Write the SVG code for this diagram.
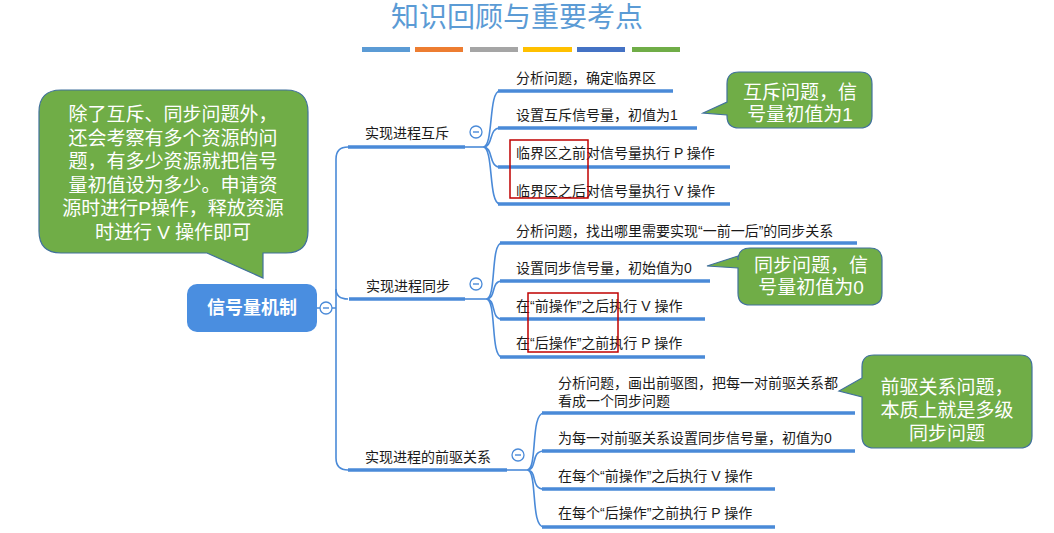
<svg xmlns="http://www.w3.org/2000/svg" width="1054" height="533" viewBox="0 0 1054 533">
<style>
text{font-family:"Liberation Sans","Noto Sans CJK SC",sans-serif;}
.title{font-size:28px;fill:#5b9bd5;text-anchor:middle;}
.t{font-size:14px;fill:#1a1a1a;}
.c{font-size:19px;fill:#ffffff;text-anchor:middle;}
.thin{fill:none;stroke:#4a8ad8;stroke-width:1.6;}
.ul{fill:none;stroke:#4a8ad8;stroke-width:3.5;}
.call{fill:#70ad47;stroke:#41719c;stroke-width:1.2;}
.red{fill:none;stroke:#c00000;stroke-width:1.5;}
.col{fill:#fff;stroke:#4a8ad8;stroke-width:1.3;}
.minus{stroke:#4a8ad8;stroke-width:1.4;}
</style>
<rect width="1054" height="533" fill="#ffffff"/>
<g id="title">
<text class="title" x="517" y="27">知识回顾与重要考点</text>
<rect x="362" y="47" width="48" height="5" fill="#5b9bd5"/>
<rect x="415" y="47" width="48" height="5" fill="#ed7d31"/>
<rect x="470" y="47" width="48" height="5" fill="#a5a5a5"/>
<rect x="523" y="47" width="49" height="5" fill="#ffc000"/>
<rect x="577" y="47" width="48" height="5" fill="#4472c4"/>
<rect x="632" y="47" width="48" height="5" fill="#70ad47"/>
</g>
<g id="connectors">
<path class="thin" d="M317,308 H320 M332,308 H336"/>
<path class="thin" d="M348,147 Q336,147 336,159 V458 Q336,470 348,470"/>
<path class="thin" d="M336,289 Q336,299 348,299"/>
<!-- section 1 -->
<path class="ul" d="M348,147 H465"/>
<path class="thin" d="M465,147 H483"/>
<path class="thin" d="M483,147 C494,147 488,91 500,91 M483,147 C494,147 488,128 500,128 M483,147 C494,147 488,167 500,167 M483,147 C494,147 488,204 500,204"/>
<path class="ul" d="M498,91 H673 M498,128 H697 M498,167 H730 M498,204 H730"/>
<!-- section 2 -->
<path class="ul" d="M349,299 H465"/>
<path class="thin" d="M465,299 H486"/>
<path class="thin" d="M486,299 C497,299 490,243 502,243 M486,299 C497,299 490,281 502,281 M486,299 C497,299 490,319 502,319 M486,299 C497,299 490,357 502,357"/>
<path class="ul" d="M500,243 H857 M500,281 H710 M500,319 H705 M500,357 H705"/>
<!-- section 3 -->
<path class="ul" d="M348,470 H507"/>
<path class="thin" d="M507,470 H527"/>
<path class="thin" d="M527,470 C538,470 530,413 544,413 M527,470 C538,470 530,451 544,451 M527,470 C538,470 530,489 544,489 M527,470 C538,470 530,527 544,527"/>
<path class="ul" d="M542,413 H855 M542,451 H855 M542,489 H775 M542,527 H775"/>
</g>
<g id="root">
<rect x="187" y="284" width="130" height="48" rx="10" fill="#4a8ee0"/>
<text x="252" y="314" font-size="18" font-weight="bold" fill="#ffffff" text-anchor="middle">信号量机制</text>
<circle class="col" cx="326" cy="308" r="6"/><path class="minus" d="M323,308 H329"/>
</g>
<g id="mutex">
<text class="t" x="365" y="138">实现进程互斥</text>
<circle class="col" cx="476" cy="132" r="6"/><path class="minus" d="M473,132 H479"/>
<text class="t" x="516" y="83">分析问题，确定临界区</text>
<text class="t" x="516" y="120">设置互斥信号量，初值为1</text>
<text class="t" x="516" y="158">临界区之前对信号量执行 P 操作</text>
<text class="t" x="516" y="196">临界区之后对信号量执行 V 操作</text>
<rect class="red" x="510" y="140" width="78" height="58"/>
</g>
<g id="sync">
<text class="t" x="366" y="291">实现进程同步</text>
<circle class="col" cx="476" cy="284" r="6"/><path class="minus" d="M473,284 H479"/>
<text class="t" x="516" y="236">分析问题，找出哪里需要实现“一前一后”的同步关系</text>
<text class="t" x="516" y="273">设置同步信号量，初始值为0</text>
<text class="t" x="516" y="311">在“前操作”之后执行 V 操作</text>
<text class="t" x="516" y="348">在“后操作”之前执行 P 操作</text>
<rect class="red" x="528" y="293" width="90" height="59"/>
</g>
<g id="precedence">
<text class="t" x="365" y="462">实现进程的前驱关系</text>
<circle class="col" cx="518" cy="455" r="6"/><path class="minus" d="M515,455 H521"/>
<text class="t" x="558" y="388">分析问题，画出前驱图，把每一对前驱关系都</text>
<text class="t" x="558" y="406">看成一个同步问题</text>
<text class="t" x="558" y="443">为每一对前驱关系设置同步信号量，初值为0</text>
<text class="t" x="558" y="481">在每个“前操作”之后执行 V 操作</text>
<text class="t" x="558" y="518">在每个“后操作”之前执行 P 操作</text>
</g>
<g id="callout-left">
<path class="call" d="M61,90 H286 Q308,90 308,112 V231 Q308,253 286,253 H263 V278 L207,253 H61 Q39,253 39,231 V112 Q39,90 61,90 Z"/>
<text class="c" x="173" y="121">除了互斥、同步问题外，</text>
<text class="c" x="173" y="145">还会考察有多个资源的问</text>
<text class="c" x="173" y="168">题，有多少资源就把信号</text>
<text class="c" x="173" y="192">量初值设为多少。申请资</text>
<text class="c" x="173" y="215">源时进行P操作，释放资源</text>
<text class="c" x="173" y="239">时进行 V 操作即可</text>
</g>
<g id="callout-mutex">
<path class="call" d="M739,72 H860 Q872,72 872,84 V116 Q872,128 860,128 H739 Q727,128 727,116 V115 L703,113 L727,102 V84 Q727,72 739,72 Z"/>
<text class="c" x="800" y="99">互斥问题，信</text>
<text class="c" x="800" y="121">号量初值为1</text>
</g>
<g id="callout-sync">
<path class="call" d="M750,248 H870 Q882,248 882,260 V293 Q882,305 870,305 H750 Q738,305 738,293 V268 L707,266 L738,256 V260 Q738,248 750,248 Z"/>
<text class="c" x="811" y="272">同步问题，信</text>
<text class="c" x="811" y="294">号量初值为0</text>
</g>
<g id="callout-precedence">
<path class="call" d="M874,355 H1020 Q1032,355 1032,367 V436 Q1032,448 1020,448 H874 Q862,448 862,436 V397 L839,391 L862,378 V367 Q862,355 874,355 Z"/>
<text class="c" x="947" y="394">前驱关系问题，</text>
<text class="c" x="947" y="417">本质上就是多级</text>
<text class="c" x="947" y="440">同步问题</text>
</g>
</svg>
